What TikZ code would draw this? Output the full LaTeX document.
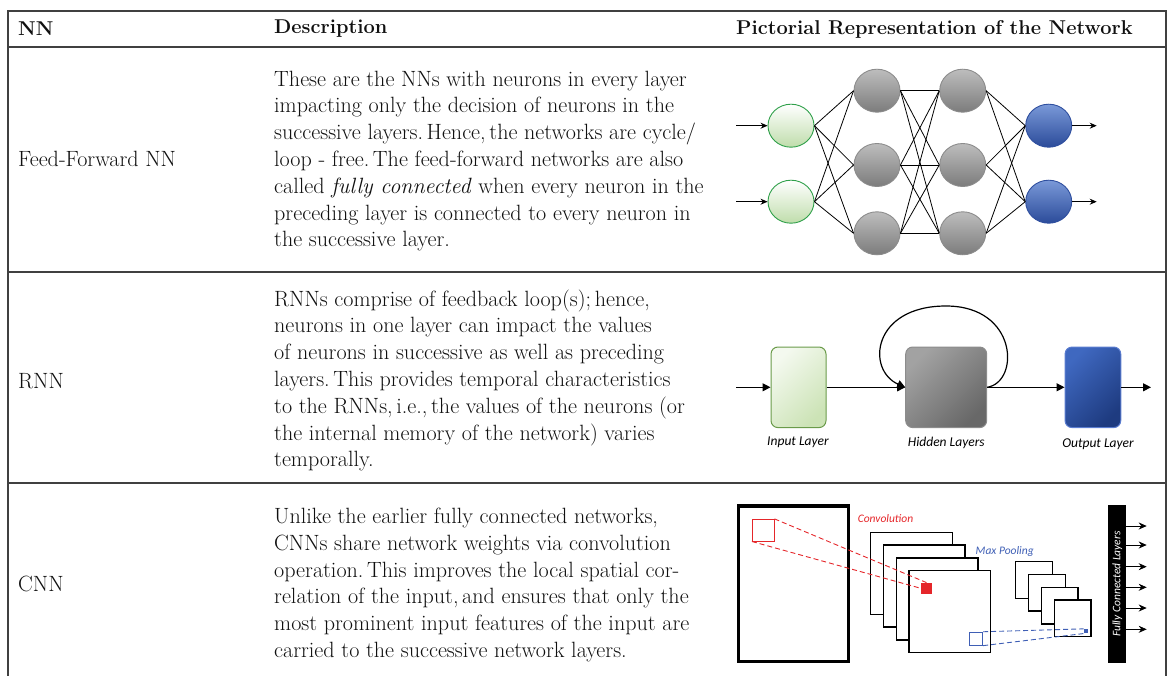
\documentclass[tikz,border=0pt]{standalone}
\usepackage{fontspec}
\newfontfamily\labelfont{Carlito}
\usetikzlibrary{shapes.geometric,arrows.meta}

\definecolor{rulecol}{HTML}{404040}
\definecolor{inedge}{HTML}{2FA04A}
\definecolor{inlow}{HTML}{BFDDAB}
\definecolor{hidtop}{HTML}{BDBDBD}
\definecolor{hidlow}{HTML}{7C7C7C}
\definecolor{hidedge}{HTML}{8C8C8C}
\definecolor{outtop}{HTML}{7A99D8}
\definecolor{outlow}{HTML}{2B4B9A}
\definecolor{outedge}{HTML}{2F4F9F}
\definecolor{rinedge}{HTML}{6A9B4A}
\definecolor{rintop}{HTML}{F4F9EF}
\definecolor{rinlow}{HTML}{CCE3B6}
\definecolor{rhidtop}{HTML}{A2A2A2}
\definecolor{rhidlow}{HTML}{686868}
\definecolor{routtop}{HTML}{3F68C0}
\definecolor{routlow}{HTML}{1E3B80}
\definecolor{routedge}{HTML}{5A7CD0}
\definecolor{convred}{HTML}{E5262A}
\definecolor{poolblue}{HTML}{3F5FB5}
\definecolor{inktext}{HTML}{101010}

\begin{document}
\begin{tikzpicture}[x=1pt,y=-1pt,
  txt/.style={font=\fontsize{22.1}{26.8}\selectfont, inner sep=0pt, text=inktext, anchor=west},
  desc/.style={txt, align=left},
  hd/.style={txt, font=\fontsize{20}{26.8}\selectfont\bfseries},
  tablerule/.style={draw=rulecol, line width=1.3pt},
  neuron/.style={ellipse, minimum width=46pt, minimum height=43pt, inner sep=0pt, line width=0.9pt},
  inneuron/.style={neuron, draw=inedge, top color=white, bottom color=inlow},
  hidneuron/.style={neuron, draw=hidedge, top color=hidtop, bottom color=hidlow},
  outneuron/.style={neuron, draw=outedge, top color=outtop, bottom color=outlow},
  wire/.style={line width=0.8pt, black},
  ioarrow/.style={line width=0.9pt, -{Stealth[length=7pt,width=6pt]}},
  rbox/.style={rounded corners=7pt, minimum height=80.6pt, inner sep=0pt, line width=1pt},
  rinbox/.style={rbox, minimum width=55pt, draw=rinedge, top color=rintop, bottom color=rinlow, shading angle=45},
  rhidbox/.style={rbox, minimum width=81pt, draw=hidedge, top color=rhidtop, bottom color=rhidlow, shading angle=45},
  routbox/.style={rbox, minimum width=55.7pt, draw=routedge, top color=routtop, bottom color=routlow, shading angle=45},
  flow/.style={line width=1.2pt, -{Triangle[length=8pt,width=8pt]}},
  layerlbl/.style={font=\labelfont\itshape\fontsize{13.5}{15}\selectfont, text=black, inner sep=0pt},
  cnnlbl/.style={font=\labelfont\itshape\fontsize{11.5}{13}\selectfont, inner sep=0pt},
  fmap/.style={draw=black, fill=white, line width=1.4pt},
  fcarrow/.style={line width=0.8pt, -{Stealth[length=8pt,width=7pt]}}
]
\useasboundingbox (0,0) rectangle (1170,676);

% ---------- table rules ----------
\draw[tablerule] (8,676) -- (8,11) -- (1166,11) -- (1166,676);
\draw[tablerule] (8,47) -- (1166,47);
\draw[tablerule] (8,272) -- (1166,272);
\draw[tablerule] (8,483) -- (1166,483);

% ---------- header ----------
\node[hd] (hNN) at (18,29) {NN};
\node[hd] (hDesc) at (274,29) {Description};
\node[hd] (hPic) at (736,29) {Pictorial Representation of the Network};

% ---------- row labels ----------
\node[txt] (lFF) at (18,158.5) {Feed-Forward NN};
\node[txt] (lRNN) at (18,381) {RNN};
\node[txt] (lCNN) at (18,584) {CNN};

% ---------- descriptions ----------
\node[desc] (dFF) at (274,161) {These are the NNs with neurons in every layer\\
impacting only the decision of neurons in the\\
successive layers.\,Hence,\,the networks are cycle/\\
loop - free.\,The feed-forward networks are also\\
called \textit{fully connected} when every neuron in the\\
preceding layer is connected to every neuron in\\
the successive layer.};

\node[desc] (dRNN) at (274,380.5) {RNNs comprise of feedback loop(s);\,hence,\\
neurons in one layer can impact the values\\
of neurons in successive as well as preceding\\
layers.\,This provides temporal characteristics\\
to the RNNs,\,i.e.,\,the values of the neurons (or\\
the internal memory of the network) varies\\
temporally.};

\node[desc] (dCNN) at (274,585) {Unlike the earlier fully connected networks,\\
CNNs share network weights via convolution\\
operation.\,This improves the local spatial cor-\\
relation of the input,\,and ensures that only the\\
most prominent input features of the input are\\
carried to the successive network layers.};

% ---------- feed-forward network ----------
\node[inneuron] (i1) at (791,125.7) {};
\node[inneuron] (i2) at (791,201.7) {};
\node[hidneuron] (a1) at (877,90.7) {};
\node[hidneuron] (a2) at (877,165) {};
\node[hidneuron] (a3) at (877,233.3) {};
\node[hidneuron] (b1) at (962.7,90.7) {};
\node[hidneuron] (b2) at (962.7,165) {};
\node[hidneuron] (b3) at (962.7,233.3) {};
\node[outneuron] (o1) at (1048.7,125.7) {};
\node[outneuron] (o2) at (1048.7,201.7) {};

\foreach \p in {1,2}{\foreach \q in {1,2,3}{\draw[wire] (i\p.east) -- (a\q.west);}}
\foreach \p in {1,2,3}{\foreach \q in {1,2,3}{\draw[wire] (a\p.east) -- (b\q.west);}}
\foreach \p in {1,2,3}{\foreach \q in {1,2}{\draw[wire] (b\p.east) -- (o\q.west);}}

\coordinate (fin1) at (736,125.7);
\coordinate (fin2) at (736,201.7);
\coordinate (fout1) at (1096.7,125.7);
\coordinate (fout2) at (1096.7,201.7);
\draw[ioarrow] (fin1) -- (i1.west);
\draw[ioarrow] (fin2) -- (i2.west);
\draw[ioarrow] (o1.east) -- (fout1);
\draw[ioarrow] (o2.east) -- (fout2);

% ---------- recurrent network ----------
\node[rinbox] (rin) at (798.5,387.3) {};
\node[rhidbox] (rhid) at (946.2,387.3) {};
\node[routbox] (rout) at (1092.9,387.3) {};
\coordinate (rsrc) at (736,387.3);
\coordinate (rdst) at (1151,387.3);
\coordinate (looptop) at (946,306);

\draw[flow] (rsrc) -- (rin.west);
\draw[flow] (rin.east) -- (rhid.west);
\draw[flow] (rhid.east) -- (rout.west);
\draw[flow] (rout.east) -- (rdst);
\draw[flow] (rhid.east) .. controls (1020,382) and (1018,306) .. (looptop)
  .. controls (872,306) and (866,370) .. (rhid.west);

\node[layerlbl] (rinlbl) at (798,442.7) {Input Layer};
\node[layerlbl] (rhidlbl) at (946.3,442.7) {Hidden Layers};
\node[layerlbl] (routlbl) at (1098,444) {Output Layer};

% ---------- convolutional network ----------
\draw[line width=3.3pt] (738.3,506) rectangle (848.3,661.7);

\foreach \k in {0,1,2,3}{
  \draw[fmap] (870.7+12.8*\k,532.3+12.8*\k) rectangle +(81.6,82);
}
\foreach \k in {0,1,2,3}{
  \draw[fmap] (1015.7+12.9*\k,561.7+12.8*\k) rectangle +(36.6,36.6);
}

\node[draw=convred, line width=0.9pt, minimum size=21.7pt, inner sep=0pt] (rpatch) at (763.2,530.2) {};
\node[fill=convred, minimum size=11pt, inner sep=0pt] (rcell) at (926.5,588.3) {};
\draw[convred, line width=0.9pt, dash pattern=on 5pt off 3pt] (rpatch.north east) -- (rcell.north);
\draw[convred, line width=0.9pt, dash pattern=on 5pt off 3pt] (rpatch.south west) -- (rcell.west);

\node[draw=poolblue, line width=0.9pt, minimum size=13pt, inner sep=0pt] (bpatch) at (976.2,638.7) {};
\node[fill=poolblue, minimum size=4.3pt, inner sep=0pt] (bcell) at (1086,631.2) {};
\draw[poolblue, line width=0.9pt, dash pattern=on 5pt off 3pt] (bpatch.north east) -- (bcell.north west);
\draw[poolblue, line width=0.9pt, dash pattern=on 5pt off 3pt] (bpatch.south east) -- (bcell.south west);

\node[cnnlbl, text=convred] (convlbl) at (885.5,518.7) {Convolution};
\node[cnnlbl, text=poolblue] (poollbl) at (1004.7,551.7) {Max Pooling};

\node[fill=black, rotate=90, minimum width=157.7pt, minimum height=17.7pt, inner sep=0pt,
      text=white, font=\labelfont\itshape\fontsize{11.5}{13}\selectfont] (fc) at (1117.2,583.9) {Fully Connected Layers};

\foreach \i/\yy in {1/526, 2/545, 3/566.7, 4/587.3, 5/608, 6/629.3}{
  \coordinate (fa\i) at (1146.7,\yy);
  \draw[fcarrow] (fc.south |- fa\i) -- (fa\i);
}
\end{tikzpicture}
\end{document}
